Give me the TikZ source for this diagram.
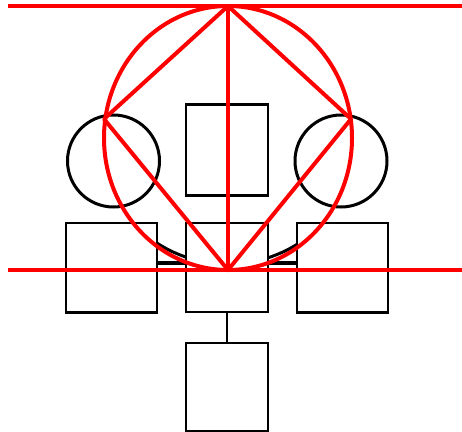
\documentclass[tikz,border=0pt]{standalone}
\begin{document}
\begin{tikzpicture}[x=1pt,y=-1pt,
  box/.style={draw=black,line width=1.6pt,inner sep=0pt,minimum width=#1},
  ring/.style={draw=black,line width=3pt,circle,inner sep=0pt,minimum size=92pt},
  redline/.style={draw=red,line width=4pt},
  link/.style={draw=black,line width=2.6pt}]
\useasboundingbox (0,0) rectangle (462,431);
% boxes
\node[box=82pt,minimum height=90pt] (top) at (227,150) {};
\node[box=91pt,minimum height=89pt] (L) at (111.5,267.5) {};
\node[box=82pt,minimum height=89pt] (C) at (227,267.5) {};
\node[box=91pt,minimum height=89pt] (R) at (342.5,267.5) {};
\node[box=82pt,minimum height=88pt] (B) at (227,387) {};
% small circles
\node[ring] (lc) at (113.5,161) {};
\node[ring] (rc) at (341,161) {};
% thicker edges
\draw[link] (top.north west) -- (top.north east);
\draw[link] (top.south west) -- (top.south east);
\draw[link] (L.south west) -- (L.south east);
\draw[link] (R.south west) -- (R.south east);
% connectors
\draw[link,line width=3.6pt] ([yshift=4.5pt]L.east) -- ([yshift=4.5pt]C.west);
\draw[link,line width=3.6pt] ([yshift=4.5pt]C.east) -- ([yshift=4.5pt]R.west);
\draw[link] (C.south) -- (B.north);
% black arc peeking under the red circle
\begin{scope}
\clip (157,228) rectangle (186,262) (268,228) rectangle (297,262);
\draw[black,line width=3pt] (228,133) circle [radius=131pt];
\end{scope}
% red construction
\coordinate (T) at (228,6);
\coordinate (Bt) at (228,270);
\coordinate (Lv) at (104,119);
\coordinate (Rv) at (351,119);
\coordinate (O) at (228,138);
\draw[redline] (8,6) coordinate (h1) -- (462,6) coordinate (h2);
\draw[redline] (8,270) coordinate (h3) -- (462,270) coordinate (h4);
\draw[redline] (O) ellipse [x radius=124pt, y radius=132pt];
\draw[redline,line join=round] (T) -- (Lv) -- (Bt) -- (Rv) -- cycle;
\draw[redline] (T) -- (Bt);
\end{tikzpicture}
\end{document}
